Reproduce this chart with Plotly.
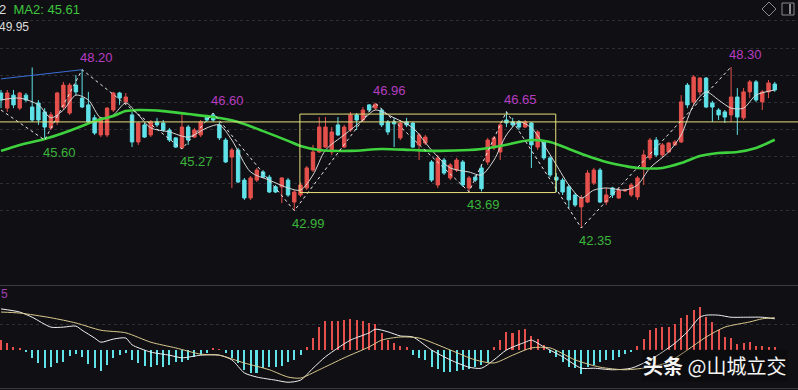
import plotly.graph_objects as go

# ---------------- data ----------------
days = list(range(125))

opens = [47.34, 46.78, 47.26, 46.78, 47.26, 46.82, 46.97, 46.64, 46.05, 46.27,
         46.82, 46.60, 47.63, 47.15, 46.90, 46.42, 45.79, 45.79, 46.71, 47.34,
         47.01, 46.53, 45.53, 46.16, 45.79, 46.27, 46.23, 45.97, 45.68, 45.31,
         46.08, 45.71, 45.79, 46.45, 46.53, 46.16, 45.60, 44.97, 45.23, 44.12,
         43.46, 44.12, 44.42, 44.23, 43.87, 43.87, 44.12, 43.31, 43.57, 43.83,
         44.49, 45.16, 45.34, 45.16, 46.16, 45.34, 45.97, 46.53, 46.34, 46.90,
         46.78, 46.71, 46.27, 46.27, 45.68, 46.27, 46.23, 45.42, 45.49, 44.79,
         43.94, 44.86, 44.20, 44.49, 44.79, 43.83, 44.23, 44.57, 44.79, 45.31,
         45.16, 46.34, 46.27, 46.27, 46.08, 46.23, 45.34, 45.53, 44.94, 44.23,
         44.12, 43.87, 43.57, 43.13, 43.31, 44.01, 44.49, 43.31, 43.83, 43.46,
         43.72, 43.57, 43.50, 44.57, 44.94, 45.60, 45.05, 45.16, 45.42, 45.53,
         47.63, 47.01, 47.38, 47.89, 46.97, 46.71, 46.64, 46.53, 47.19, 46.42,
         47.38, 47.75, 47.01, 47.38, 47.67]
highs = [47.45, 47.45, 47.45, 47.38, 47.34, 48.28, 47.08, 46.78, 46.64, 47.38,
         47.75, 47.71, 48.00, 48.20, 47.38, 46.53, 46.45, 46.82, 47.38, 47.38,
         47.34, 46.64, 46.27, 46.23, 46.34, 46.42, 46.34, 46.05, 45.71, 46.60,
         46.16, 46.05, 46.34, 46.53, 46.60, 46.27, 45.68, 45.31, 45.31, 44.20,
         44.27, 44.57, 44.49, 44.31, 43.94, 44.23, 44.20, 43.75, 44.05, 44.64,
         45.42, 46.45, 46.45, 46.08, 46.45, 46.16, 46.64, 46.60, 46.82, 46.93,
         46.96, 46.78, 46.34, 46.42, 46.34, 46.42, 46.27, 45.86, 45.79, 44.86,
         45.05, 44.94, 44.75, 44.94, 44.86, 44.27, 44.31, 44.68, 45.68, 45.75,
         46.27, 46.65, 46.42, 46.34, 46.34, 46.27, 45.97, 45.60, 45.01, 44.38,
         44.20, 43.94, 43.64, 43.57, 44.49, 44.57, 44.57, 43.83, 43.87, 43.83,
         43.80, 44.01, 44.27, 45.23, 45.68, 45.71, 45.49, 45.53, 45.60, 47.26,
         47.71, 48.00, 47.93, 47.93, 47.05, 46.78, 46.71, 48.30, 47.52, 47.52,
         47.82, 47.82, 47.45, 47.82, 47.75]
lows = [46.78, 46.64, 46.78, 46.71, 47.01, 46.27, 46.16, 45.60, 45.97, 46.16,
        46.71, 46.53, 47.26, 46.78, 46.23, 45.79, 45.71, 45.71, 46.64, 46.90,
        46.90, 45.34, 45.42, 45.68, 45.71, 46.08, 45.90, 45.53, 45.31, 45.27,
        45.42, 45.68, 45.71, 46.27, 46.27, 45.60, 44.75, 43.83, 44.01, 43.39,
        43.39, 44.05, 44.20, 43.64, 43.64, 43.27, 43.50, 42.99, 43.50, 43.75,
        44.42, 45.12, 45.31, 45.05, 45.75, 45.31, 45.90, 45.97, 46.27, 46.64,
        46.71, 46.08, 45.79, 45.34, 45.60, 46.08, 45.31, 44.86, 45.42, 44.05,
        43.83, 44.31, 44.12, 44.42, 43.87, 43.69, 44.05, 43.70, 44.68, 45.23,
        44.86, 46.08, 46.08, 45.97, 46.05, 44.57, 45.23, 44.86, 44.23, 43.68,
        43.57, 43.09, 43.13, 42.35, 43.27, 43.94, 43.27, 43.20, 43.46, 43.42,
        43.68, 43.50, 43.39, 43.94, 44.86, 44.97, 44.97, 45.12, 45.38, 45.49,
        46.78, 46.90, 47.26, 46.78, 46.27, 46.34, 46.23, 46.27, 45.79, 46.34,
        47.15, 47.01, 46.71, 47.15, 47.38]
closes = [47.08, 47.34, 46.90, 47.34, 47.08, 46.34, 46.34, 46.08, 46.53, 47.34,
          47.63, 47.63, 47.38, 46.82, 46.27, 45.86, 46.42, 46.78, 47.34, 47.15,
          47.19, 45.53, 46.23, 45.71, 46.27, 46.16, 45.97, 45.60, 45.34, 46.08,
          45.60, 45.97, 46.27, 46.34, 46.34, 45.68, 44.79, 45.23, 44.05, 43.46,
          44.20, 44.49, 44.23, 43.68, 43.68, 44.20, 43.57, 43.68, 43.94, 44.57,
          45.16, 46.08, 46.08, 45.90, 45.79, 46.08, 46.53, 46.34, 46.71, 46.71,
          46.93, 46.16, 45.90, 46.20, 46.23, 46.16, 45.34, 45.79, 45.71, 44.12,
          44.94, 44.38, 44.68, 44.86, 43.94, 44.20, 44.12, 43.80, 45.60, 45.68,
          46.16, 46.23, 46.16, 46.08, 46.27, 45.42, 45.90, 44.94, 44.31, 44.12,
          43.68, 43.39, 43.20, 43.46, 44.38, 44.49, 43.31, 43.57, 43.57, 43.75,
          43.75, 43.94, 44.20, 45.05, 45.60, 45.05, 45.42, 45.49, 45.53, 47.01,
          46.90, 47.93, 47.89, 46.82, 46.82, 46.53, 46.45, 47.19, 46.45, 47.38,
          47.75, 47.08, 47.38, 47.71, 47.45]

# MA2 (thick green) read at sampled days
ma2_days = [0, 3, 7, 10, 13, 15, 18, 20, 22, 26, 30, 34, 38, 42, 46, 48, 51, 56, 61, 66,
            70, 75, 77, 80, 83, 85, 88, 91, 94, 97, 100, 102, 106, 109, 112, 115, 118, 121, 124]
ma2_vals = [45.20, 45.42, 45.64, 45.86, 46.12, 46.30, 46.49, 46.67, 46.71, 46.67, 46.56,
            46.45, 46.27, 45.93, 45.57, 45.38, 45.23, 45.20, 45.27, 45.23, 45.20, 45.23,
            45.27, 45.38, 45.53, 45.60, 45.53, 45.27, 45.01, 44.79, 44.64, 44.57, 44.57,
            44.75, 45.01, 45.12, 45.16, 45.31, 45.61]

# short MA (thin white) read at sampled days
ma1_days = [0, 3, 6, 8, 10, 12, 14, 16, 18, 20, 22, 24, 27, 30, 33, 35, 37, 40, 43, 46,
            48, 50, 52, 55, 58, 60, 63, 66, 69, 72, 75, 77, 79, 81, 83, 85, 87, 89, 91, 93,
            95, 97, 100, 102, 104, 107, 109, 111, 113, 115, 117, 119, 121, 124]
ma1_vals = [47.08, 47.15, 46.90, 46.42, 46.71, 47.26, 47.08, 46.42, 46.53, 46.97, 46.53,
            46.05, 45.90, 45.71, 46.05, 46.16, 45.60, 44.42, 44.12, 43.83, 43.75, 44.31,
            45.23, 45.79, 46.34, 46.71, 46.42, 46.05, 45.23, 44.57, 44.42, 44.31, 44.86,
            45.79, 46.27, 46.05, 45.42, 44.68, 43.94, 43.46, 43.75, 43.83, 43.75, 43.94,
            44.57, 45.16, 45.79, 46.90, 47.38, 47.08, 46.78, 46.78, 47.26, 47.45]

# swing points (zigzag)
zig_days = [0, 7, 13, 29, 34, 47, 60, 75, 81, 93, 117]
zig_vals = [46.71, 45.60, 48.20, 45.27, 46.60, 42.99, 46.96, 43.69, 46.65, 42.35, 48.30]
peak_days = [13, 34, 60, 81, 117]
peak_vals = [48.20, 46.60, 46.96, 46.65, 48.30]
trough_days = [7, 29, 47, 75, 93]
trough_vals = [45.60, 45.27, 42.99, 43.69, 42.35]

# blue trend line
blue_days = [0, 13]
blue_vals = [47.86, 48.20]

# box and level
box_days = [47.9, 88.9]
box_vals = [43.66, 46.56]
level_val = 46.27

# MACD
macd_hist = [0.19, 0.13, 0.06, 0.02, -0.04, -0.15, -0.25, -0.35, -0.33, -0.25,
             -0.23, -0.12, -0.08, -0.13, -0.27, -0.35, -0.40, -0.29, -0.15, -0.10,
             -0.06, -0.19, -0.25, -0.31, -0.33, -0.29, -0.33, -0.29, -0.23, -0.23,
             -0.19, -0.13, -0.10, -0.06, 0.04, 0.01, -0.06, -0.15, -0.25, -0.38,
             -0.44, -0.44, -0.35, -0.33, -0.33, -0.31, -0.23, -0.19, -0.10, 0.06,
             0.23, 0.44, 0.56, 0.56, 0.56, 0.58, 0.60, 0.58, 0.56, 0.52,
             0.50, 0.33, 0.19, 0.13, 0.08, 0.06, -0.10, -0.15, -0.19, -0.33,
             -0.37, -0.42, -0.42, -0.40, -0.38, -0.37, -0.33, -0.29, -0.23, 0.06,
             0.19, 0.35, 0.33, 0.38, 0.40, 0.27, 0.21, 0.10, -0.06, -0.13,
             -0.23, -0.33, -0.35, -0.46, -0.33, -0.29, -0.23, -0.19, -0.19, -0.13,
             -0.08, -0.04, 0.08, 0.21, 0.38, 0.42, 0.44, 0.44, 0.50, 0.62,
             0.67, 0.77, 0.83, 0.63, 0.54, 0.38, 0.25, 0.23, 0.12, 0.13,
             0.15, 0.08, 0.08, 0.06, 0.06]
dif_days = [0, 3, 5, 8, 10, 12, 13, 15, 16, 18, 20, 21, 24, 27, 29, 32, 35, 37, 39, 41,
            44, 46, 48, 50, 52, 54, 56, 59, 60, 62, 64, 66, 69, 72, 75, 77, 79, 81, 84, 85,
            87, 90, 93, 95, 98, 101, 104, 106, 108, 110, 112, 113, 115, 117, 119, 122, 124]
dif_vals = [0.79, 0.73, 0.63, 0.44, 0.44, 0.46, 0.38, 0.23, 0.15, 0.21, 0.23, 0.10, -0.04,
            -0.10, -0.15, -0.10, -0.10, -0.19, -0.44, -0.52, -0.58, -0.62, -0.58, -0.35,
            -0.13, 0.04, 0.19, 0.33, 0.40, 0.35, 0.27, 0.25, 0.00, -0.19, -0.33, -0.35,
            -0.19, 0.00, 0.15, 0.19, 0.06, -0.13, -0.35, -0.35, -0.38, -0.35, -0.19, -0.04,
            0.13, 0.35, 0.63, 0.67, 0.67, 0.63, 0.63, 0.63, 0.60]
dea_days = [0, 3, 8, 12, 16, 20, 24, 28, 32, 35, 39, 43, 46, 48, 51, 55, 59, 61, 64, 67,
            72, 76, 79, 82, 85, 88, 92, 96, 100, 104, 107, 110, 113, 116, 120, 122, 124]
dea_vals = [0.73, 0.71, 0.62, 0.52, 0.38, 0.33, 0.15, 0.04, -0.08, -0.10, -0.25, -0.38,
            -0.52, -0.54, -0.38, -0.15, 0.06, 0.19, 0.25, 0.23, 0.00, -0.19, -0.25, -0.10,
            0.04, 0.04, -0.19, -0.33, -0.38, -0.33, -0.23, 0.00, 0.25, 0.44, 0.54, 0.60, 0.62]

# ---------------- styling ----------------
BG = "#101014"
RED = "#e5504c"
CYAN = "#5fe2e8"
GREEN = "#3fd23f"
MAGENTA = "#b63cc0"
LBL_GREEN = "#3cb43c"
YELLOW = "#e6e07a"
FONT = "Liberation Sans, Arial, sans-serif"

W, H = 798, 390
px_per_day = 6.24
x0 = -1 / px_per_day
x_range = [x0, x0 + W / px_per_day]

main_top_px, main_bot_px = 0, 282
macd_top_px, macd_bot_px = 286, 390
price_at = lambda y: 42.35 + (228 - y) / 27.06
macd_at = lambda y: (350 - y) / 52

fig = go.Figure()

fig.add_trace(go.Candlestick(
    x=days, open=opens, high=highs, low=lows, close=closes,
    increasing=dict(line=dict(color=RED, width=1), fillcolor=RED),
    decreasing=dict(line=dict(color=CYAN, width=1), fillcolor=CYAN),
    whiskerwidth=0, xaxis="x", yaxis="y", showlegend=False))

fig.add_trace(go.Scatter(x=ma1_days, y=ma1_vals, mode="lines",
                         line=dict(color="#d8d8d8", width=1, shape="spline", smoothing=0.8),
                         xaxis="x", yaxis="y", showlegend=False))
fig.add_trace(go.Scatter(x=ma2_days, y=ma2_vals, mode="lines",
                         line=dict(color=GREEN, width=2.6, shape="spline", smoothing=0.8),
                         xaxis="x", yaxis="y", showlegend=False))
fig.add_trace(go.Scatter(x=zig_days, y=zig_vals, mode="lines",
                         line=dict(color="#e8e8e8", width=1, dash="3px,3px"),
                         xaxis="x", yaxis="y", showlegend=False))
fig.add_trace(go.Scatter(x=blue_days, y=blue_vals, mode="lines",
                         line=dict(color="#3b6ed6", width=1),
                         xaxis="x", yaxis="y", showlegend=False))

# MACD
fig.add_trace(go.Bar(x=days, y=macd_hist, width=0.32,
                     marker=dict(color=[RED if v >= 0 else CYAN for v in macd_hist], line=dict(width=0)),
                     xaxis="x2", yaxis="y2", showlegend=False))
fig.add_trace(go.Scatter(x=dif_days, y=dif_vals, mode="lines",
                         line=dict(color="#f0f0f0", width=1, shape="spline", smoothing=0.7),
                         xaxis="x2", yaxis="y2", showlegend=False))
fig.add_trace(go.Scatter(x=dea_days, y=dea_vals, mode="lines",
                         line=dict(color="#d9c98e", width=1, shape="spline", smoothing=0.7),
                         xaxis="x2", yaxis="y2", showlegend=False))

ann = []
for d, v in zip(peak_days, peak_vals):
    ann.append(dict(x=d, y=v, xref="x", yref="y", text=f"{v:.2f}", showarrow=False,
                    xanchor="left", yanchor="bottom", xshift=-4, yshift=3,
                    font=dict(color=MAGENTA, size=13, family=FONT)))
for d, v in zip(trough_days, trough_vals):
    ann.append(dict(x=d, y=v, xref="x", yref="y", text=f"{v:.2f}", showarrow=False,
                    xanchor="left", yanchor="top", xshift=-4, yshift=-3,
                    font=dict(color=LBL_GREEN, size=13, family=FONT)))


def py(pxv):
    return 1 - pxv / H


def pxx(pxv):
    return pxv / W


ann += [
    dict(x=0, y=py(9), xref="paper", yref="paper", xanchor="left", yanchor="middle", xshift=-3,
         text="<span style='color:#dcdcdc'>2</span>  <span style='color:#3ec43e'>MA2: 45.61</span>",
         showarrow=False, font=dict(size=13, family=FONT)),
    dict(x=0, y=py(27), xref="paper", yref="paper", xanchor="left", yanchor="middle", xshift=-3,
         text="49.95", showarrow=False, font=dict(size=12, color="#dcdcdc", family=FONT)),
    dict(x=0, y=py(294), xref="paper", yref="paper", xanchor="left", yanchor="middle", xshift=-1,
         text="5", showarrow=False, font=dict(size=12, color="#a040b0", family=FONT)),
    dict(x=pxx(714), y=py(365), xref="paper", yref="paper", xanchor="center", yanchor="middle",
         text="<b>头条</b> @山城立交", showarrow=False, bgcolor="rgba(0,0,0,0.25)",
         font=dict(size=20, color="#f4f4f4", family="Noto Sans CJK SC")),
]

shapes = [
    dict(type="rect", xref="x", yref="y", x0=box_days[0], x1=box_days[1], y0=box_vals[0],
         y1=box_vals[1], line=dict(color=YELLOW, width=1)),
    dict(type="line", xref="paper", yref="y", x0=0, x1=1, y0=level_val, y1=level_val,
         line=dict(color=YELLOW, width=1)),
    dict(type="line", xref="paper", yref="paper", x0=0, x1=1, y0=py(285.5), y1=py(285.5),
         line=dict(color="#3a3a44", width=1)),
    dict(type="line", xref="paper", yref="paper", x0=0, x1=1, y0=py(388.5), y1=py(388.5),
         line=dict(color="#3a3a44", width=1)),
    # toolbar icons
    dict(type="path", xref="paper", yref="paper",
         path=f"M {pxx(762)} {py(9)} L {pxx(769)} {py(2)} L {pxx(776)} {py(9)} L {pxx(769)} {py(16)} Z",
         line=dict(color="#8a8a8a", width=1)),
    dict(type="rect", xref="paper", yref="paper", x0=pxx(782), x1=pxx(794), y0=py(15), y1=py(3),
         line=dict(color="#8a8a8a", width=1)),
    dict(type="line", xref="paper", yref="paper", x0=pxx(790), x1=pxx(790), y0=py(14), y1=py(4),
         line=dict(color="#8a8a8a", width=2)),
]

fig.update_layout(
    width=W, height=H, margin=dict(l=0, r=0, t=0, b=0),
    paper_bgcolor=BG, plot_bgcolor=BG, showlegend=False, hovermode=False,
    boxgap=0.22, bargap=0,
    xaxis=dict(range=x_range, visible=False, anchor="y", rangeslider=dict(visible=False)),
    xaxis2=dict(range=x_range, visible=False, anchor="y2", matches="x"),
    yaxis=dict(domain=[py(main_bot_px), py(main_top_px)],
               range=[price_at(main_bot_px), price_at(main_top_px)],
               tickvals=[43, 44, 45, 46, 47, 48, 49, 50], showticklabels=False,
               gridcolor="#2e2e36", griddash="dot", gridwidth=1, zeroline=False, showline=False),
    yaxis2=dict(domain=[py(macd_bot_px), py(macd_top_px)],
                range=[macd_at(macd_bot_px), macd_at(macd_top_px)],
                tickvals=[0.5], showticklabels=False,
                gridcolor="#2e2e36", griddash="dot", gridwidth=1, zeroline=False, showline=False),
    annotations=ann, shapes=shapes,
)

fig.write_html("out.html", config={"displayModeBar": False},
               post_script="document.body.style.margin='0';document.body.style.background='#101014';document.body.style.overflow='hidden';")
